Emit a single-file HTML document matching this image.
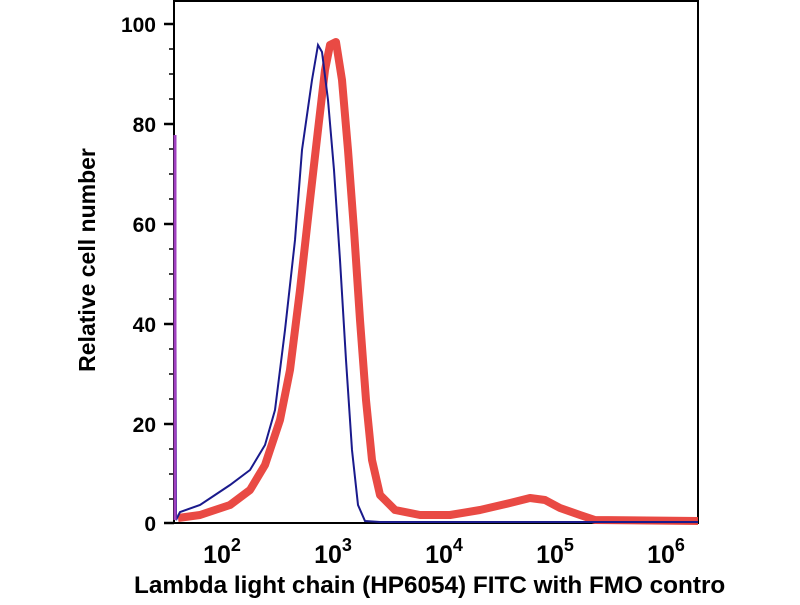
<!DOCTYPE html>
<html><head><style>
body{margin:0;background:#fff;}
svg text{font-family:"Liberation Sans",sans-serif;font-weight:bold;fill:#000;}
</style></head><body>
<svg width="800" height="600" viewBox="0 0 800 600">
<defs><clipPath id="c"><rect x="0" y="560" width="725" height="40"/></clipPath></defs>
<rect x="174" y="1" width="524" height="522" fill="none" stroke="#000" stroke-width="2"/>
<g stroke="#000" stroke-width="2.5">
<line x1="164" y1="24" x2="174" y2="24"/><line x1="164" y1="124" x2="174" y2="124"/>
<line x1="164" y1="224" x2="174" y2="224"/><line x1="164" y1="324" x2="174" y2="324"/>
<line x1="164" y1="424" x2="174" y2="424"/><line x1="164" y1="523" x2="174" y2="523"/>
</g>
<g stroke="#000" stroke-width="1.5">
<line x1="169" y1="49" x2="174" y2="49"/><line x1="169" y1="74" x2="174" y2="74"/><line x1="169" y1="99" x2="174" y2="99"/>
<line x1="169" y1="149" x2="174" y2="149"/><line x1="169" y1="174" x2="174" y2="174"/><line x1="169" y1="199" x2="174" y2="199"/>
<line x1="169" y1="249" x2="174" y2="249"/><line x1="169" y1="274" x2="174" y2="274"/><line x1="169" y1="299" x2="174" y2="299"/>
<line x1="169" y1="349" x2="174" y2="349"/><line x1="169" y1="374" x2="174" y2="374"/><line x1="169" y1="399" x2="174" y2="399"/>
<line x1="169" y1="449" x2="174" y2="449"/><line x1="169" y1="474" x2="174" y2="474"/><line x1="169" y1="499" x2="174" y2="499"/>
</g>
<g id="xt" stroke="#000"></g>
<g font-size="21" text-anchor="end">
<text x="156" y="32">100</text>
<text x="156" y="132">80</text>
<text x="156" y="232">60</text>
<text x="156" y="332">40</text>
<text x="156" y="432">20</text>
<text x="156" y="531">0</text>
</g>
<g font-size="25" text-anchor="middle">
<text x="222" y="563">10<tspan font-size="18" dy="-12">2</tspan></text>
<text x="333" y="563">10<tspan font-size="18" dy="-12">3</tspan></text>
<text x="444" y="563">10<tspan font-size="18" dy="-12">4</tspan></text>
<text x="555" y="563">10<tspan font-size="18" dy="-12">5</tspan></text>
<text x="666" y="563">10<tspan font-size="18" dy="-12">6</tspan></text>
</g>
<text x="134" y="593" font-size="24.3" clip-path="url(#c)">Lambda light chain (HP6054) FITC with FMO control</text>
<text transform="translate(95,260) rotate(-90)" font-size="23" text-anchor="middle">Relative cell number</text>
<polyline fill="none" stroke="#e8403a" stroke-opacity="0.95" stroke-width="8" stroke-linejoin="round" points="178,518 200,515 230,505 250,490 265,465 280,420 290,370 300,290 310,200 318,130 325,70 330,45 336,42 342,80 348,150 354,230 360,320 366,400 372,460 380,495 395,510 420,515 450,515 480,510 510,503 530,498 545,500 560,508 580,515 595,520 698,521"/>
<polyline fill="none" stroke="#1a1a8c" stroke-width="2" points="175,140 176,520 180,512 200,505 215,495 230,485 250,470 265,445 275,410 285,330 295,240 302,150 308,108 312,80 318,45 322,52 328,100 334,170 340,260 346,360 352,450 358,505 365,521 380,522 698,522"/>
<line x1="175" y1="135" x2="175" y2="520" stroke="#a040c0" stroke-width="3"/>
<script>
var g=document.getElementById('xt'),s='';
for(var d=1;d<=6;d++){for(var m=1;m<10;m++){var x=228+(d-2+Math.log10(m))*111;if(x<174||x>698)continue;
var L=m==1?10:5;s+='<line x1="'+x+'" y1="523" x2="'+x+'" y2="'+(523+L)+'" stroke-width="'+(m==1?2.5:1.5)+'"/>';}}
g.innerHTML=s;
</script>
</svg>
</body></html>
